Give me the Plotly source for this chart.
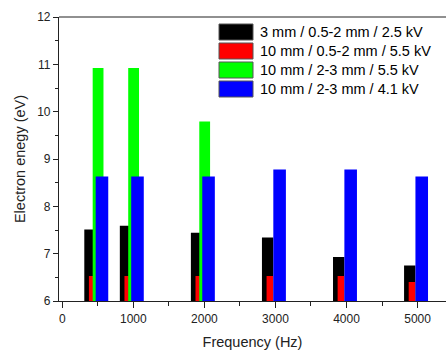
import plotly.graph_objects as go

# Discharge frequency (Hz) and mean electron energy (eV) per configuration
freq = [500, 1000, 2000, 3000, 4000, 5000]
freq_green = [500, 1000, 2000]

e_3mm_05_2_25kV = [7.51, 7.59, 7.44, 7.34, 6.93, 6.75]
e_10mm_05_2_55kV = [6.53, 6.53, 6.53, 6.53, 6.53, 6.40]
e_10mm_2_3_55kV = [10.92, 10.92, 9.79]
e_10mm_2_3_41kV = [8.63, 8.63, 8.63, 8.78, 8.78, 8.63]

names = [
    "3 mm / 0.5-2 mm / 2.5 kV",
    "10 mm / 0.5-2 mm / 5.5 kV",
    "10 mm / 2-3 mm / 5.5 kV",
    "10 mm / 2-3 mm / 4.1 kV",
]
colors = ["#000000", "#ff0000", "#00ff00", "#0000ff"]

# Column placement relative to each frequency (offset, width) in Hz
layout_cols = [(-190, 160), (-125, 92), (-72, 152), (-30, 177)]

series = [
    (freq, e_3mm_05_2_25kV),
    (freq, e_10mm_05_2_55kV),
    (freq_green, e_10mm_2_3_55kV),
    (freq, e_10mm_2_3_41kV),
]

W, H = 446, 350
ML, MR, MT, MB = 59, 0, 17, 49
FONT = "Liberation Sans, Arial, sans-serif"

fig = go.Figure()
for (xs, ys), name, col, (off, wd) in zip(series, names, colors, layout_cols):
    fig.add_trace(go.Bar(
        x=xs, y=ys, name=name, offset=off, width=wd,
        marker=dict(color=col, line=dict(width=0)),
        showlegend=False,
    ))


def px_x(px):
    return (px - ML) / (W - ML - MR)


def px_y(py):
    return 1 - (py - MT) / (H - MT - MB)


# Boxed legend in the upper right corner
box_x0, box_x1, text_x = 219, 253, 258
row_c = [32, 51, 70, 89]
for name, col, yc in zip(names, colors, row_c):
    fig.add_shape(type="rect", xref="paper", yref="paper",
                  x0=px_x(box_x0), x1=px_x(box_x1),
                  y0=px_y(yc + 8), y1=px_y(yc - 8),
                  fillcolor=col, line=dict(color="#555555", width=1))
    fig.add_annotation(x=px_x(text_x), y=px_y(yc), xref="paper", yref="paper",
                       text=name, showarrow=False, xanchor="left", yanchor="middle",
                       font=dict(family=FONT, size=14.5, color="#000000"))

# top frame line
fig.add_shape(type="line", xref="paper", yref="paper", x0=0, x1=1, y0=1, y1=1,
              line=dict(color="#222222", width=1.2))

fig.update_layout(
    width=W, height=H,
    margin=dict(l=ML, r=MR, t=MT, b=MB),
    barmode="overlay",
    plot_bgcolor="white", paper_bgcolor="white",
    font=dict(family=FONT, size=12, color="#222222"),
    xaxis=dict(
        range=[-46, 5400],
        tickvals=[0, 1000, 2000, 3000, 4000, 5000],
        ticks="outside", ticklen=6, tickwidth=1.2, tickcolor="#222222",
        minor=dict(ticks="outside", dtick=500, tick0=0, ticklen=4, tickcolor="#222222"),
        showline=True, linecolor="#222222", linewidth=1.2,
        showgrid=False, zeroline=False,
        title=dict(text="Frequency (Hz)", font=dict(size=14.5), standoff=13),
        tickfont=dict(size=12),
    ),
    yaxis=dict(
        range=[6, 12],
        dtick=1,
        ticks="outside", ticklen=5, tickwidth=1.2, tickcolor="#222222",
        minor=dict(ticks="outside", dtick=0.5, ticklen=3, tickcolor="#222222"),
        showline=True, linecolor="#222222", linewidth=1.2,
        showgrid=False, zeroline=False,
        title=dict(text="Electron enegy (eV)", font=dict(size=14.5), standoff=8),
        tickfont=dict(size=12),
    ),
)

fig.write_html("out.html")
